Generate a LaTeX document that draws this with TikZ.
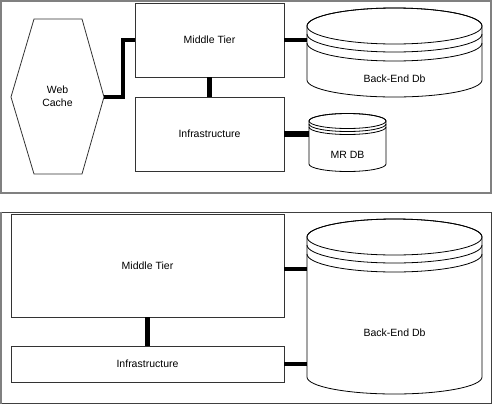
\documentclass[tikz,border=0pt]{standalone}
\usepackage{fontspec}
\setmainfont{Liberation Sans}
\begin{document}
\begin{tikzpicture}[x=1pt,y=-1pt,
  lbl/.style={font=\fontsize{10.5}{12.5}\selectfont, align=center, inner sep=0pt},
  tierbox/.style={draw=black!80, line width=0.9pt, fill=white, minimum width=#1, anchor=center, inner sep=0pt},
  frameline/.style={draw=black!50, line width=1.6pt},
  dbline/.style={draw=black, line width=0.8pt},
  link/.style={draw=black, line width=4.5pt},
  ]
\useasboundingbox (0,0) rectangle (492,405);
\fill[white] (0,0) rectangle (492,405);

% ---------- top panel ----------
\draw[frameline] (1,1) rectangle (491,193);

% Web cache hexagon
\draw[dbline, draw=black!80] (34,19) -- (82,19) -- (104,97) -- (82,174) -- (34,174) -- (11,97) -- cycle;
\node[lbl] (wc) at (57.5,96) {Web\\Cache};
\coordinate (wcE) at (104,97);

% Middle Tier / Infrastructure
\node[tierbox=149pt, minimum height=74pt] (mt1) at (209.5,40) {};
\node[lbl] at (mt1) {Middle Tier};
\node[tierbox=149pt, minimum height=74pt] (inf1) at (209.5,134) {};
\node[lbl] at (inf1) {Infrastructure};

% Back-End Db (top)
\path[dbline, fill=white] (307,26) -- (307,80)
  arc[start angle=180, end angle=360, x radius=87.5pt, y radius=17pt]
  -- (482,26)
  arc[start angle=0, end angle=180, x radius=87.5pt, y radius=18pt] -- cycle;
\draw[dbline] (394.5,26) ellipse[x radius=87.5pt, y radius=18pt];
\draw[dbline] (307,34) arc[start angle=180, end angle=360, x radius=87.5pt, y radius=18pt];
\draw[dbline] (307,43) arc[start angle=180, end angle=360, x radius=87.5pt, y radius=18pt];
\node[minimum width=175pt, minimum height=54pt, inner sep=0pt] (be1) at (394.5,53) {};
\node[lbl] at (394.5,79) {Back-End Db};

% MR DB
\path[dbline, fill=white] (309,121) -- (309,164)
  arc[start angle=180, end angle=360, x radius=38.5pt, y radius=7.5pt]
  -- (386,121)
  arc[start angle=0, end angle=180, x radius=38.5pt, y radius=7.5pt] -- cycle;
\draw[dbline] (347.5,121) ellipse[x radius=38.5pt, y radius=7.5pt];
\draw[dbline] (309,124) arc[start angle=180, end angle=360, x radius=38.5pt, y radius=7.5pt];
\draw[dbline] (309,127) arc[start angle=180, end angle=360, x radius=38.5pt, y radius=7.5pt];
\node[minimum width=77pt, minimum height=43pt, inner sep=0pt] (mr) at (347.5,142.5) {};
\node[lbl] at (347.5,155) {MR DB};

% connectors top
\draw[link, line width=4pt] (wcE) -- ++(19,0) |- (mt1.west);
\draw[link] (mt1.south) -- (inf1.north);
\draw[link, line width=4pt] (mt1.east) -- (mt1.east -| be1.west);
\draw[link, line width=6pt] (inf1.east) -- (inf1.east -| mr.west);

% ---------- bottom panel ----------
\draw[draw=black!75, line width=1pt] (1,212) -- (491,212) -- (491,403.5) -- (1,403.5);
\draw[frameline] (1,211.5) -- (1,404);

\node[tierbox=273pt, minimum height=103pt] (mt2) at (147.5,265.5) {};
\node[lbl] at (mt2) {Middle Tier};
\node[tierbox=273pt, minimum height=36pt] (inf2) at (147.5,364) {};
\node[lbl] at (inf2) {Infrastructure};

% Back-End Db (bottom)
\path[dbline, fill=white] (307,237) -- (307,377)
  arc[start angle=180, end angle=360, x radius=87.5pt, y radius=17pt]
  -- (482,237)
  arc[start angle=0, end angle=180, x radius=87.5pt, y radius=18pt] -- cycle;
\draw[dbline] (394.5,237) ellipse[x radius=87.5pt, y radius=18pt];
\draw[dbline] (307,245) arc[start angle=180, end angle=360, x radius=87.5pt, y radius=18pt];
\draw[dbline] (307,254) arc[start angle=180, end angle=360, x radius=87.5pt, y radius=18pt];
\node[minimum width=175pt, minimum height=140pt, inner sep=0pt] (be2) at (394.5,307) {};
\node[lbl] at (394.5,333) {Back-End Db};

% connectors bottom
\draw[link] (mt2.south) -- (inf2.north);
\draw[link] (mt2.east |- 0,269) -- (be2.west |- 0,269);
\draw[link] (inf2.east) -- (inf2.east -| be2.west);
\end{tikzpicture}
\end{document}
